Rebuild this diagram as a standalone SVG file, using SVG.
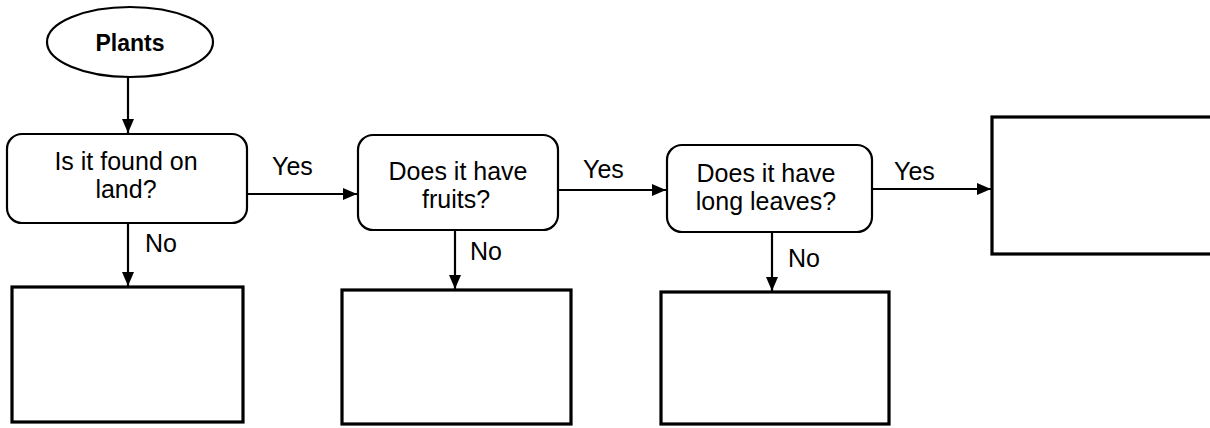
<svg xmlns="http://www.w3.org/2000/svg" width="1210" height="428" viewBox="0 0 1210 428">
<style>
text{font-family:"Liberation Sans",Arial,sans-serif;font-size:25px;fill:#000;text-anchor:middle}
.title{font-weight:bold;font-size:23px}
.lbl{text-anchor:start}
.dec{fill:#fff;stroke:#000;stroke-width:2.2}
.box{fill:#fff;stroke:#000;stroke-width:3.2}
.conn{fill:none;stroke:#000;stroke-width:2.2}
</style>
<defs>
<marker id="ah" markerUnits="userSpaceOnUse" markerWidth="15" markerHeight="13" refX="14" refY="6.5" orient="auto">
<path d="M0,0.5 L14,6.5 L0,12.5 z" fill="#000"/>
</marker>
</defs>
<rect width="1210" height="428" fill="#fff"/>
<g id="connectors">
<line class="conn" x1="128" y1="77" x2="128" y2="133" marker-end="url(#ah)"/>
<line class="conn" x1="247" y1="194" x2="357" y2="194" marker-end="url(#ah)"/>
<line class="conn" x1="558" y1="190" x2="666" y2="190" marker-end="url(#ah)"/>
<line class="conn" x1="872" y1="189" x2="991" y2="189" marker-end="url(#ah)"/>
<line class="conn" x1="128" y1="223" x2="128" y2="286" marker-end="url(#ah)"/>
<line class="conn" x1="455" y1="230" x2="455" y2="289" marker-end="url(#ah)"/>
<line class="conn" x1="772" y1="232" x2="772" y2="291" marker-end="url(#ah)"/>
<text class="lbl" x="272" y="175">Yes</text>
<text class="lbl" x="583" y="178">Yes</text>
<text class="lbl" x="894" y="180">Yes</text>
<text class="lbl" x="145" y="252">No</text>
<text class="lbl" x="470" y="260">No</text>
<text class="lbl" x="788" y="267">No</text>
</g>
<g id="plants">
<ellipse class="dec" cx="130" cy="42" rx="83" ry="35" stroke-width="1.8"/>
<text class="title" x="130" y="51">Plants</text>
</g>
<g id="q-land">
<rect class="dec" x="7" y="134" width="240" height="89" rx="15"/>
<text x="126" y="170">Is it found on</text>
<text x="126" y="198">land?</text>
</g>
<g id="q-fruits">
<rect class="dec" x="358" y="135" width="200" height="95" rx="15"/>
<text x="458" y="180">Does it have</text>
<text x="456" y="208">fruits?</text>
</g>
<g id="q-leaves">
<rect class="dec" x="667" y="145" width="205" height="87" rx="15"/>
<text x="766" y="182">Does it have</text>
<text x="766" y="210">long leaves?</text>
</g>
<g id="ans-yes">
<rect class="box" x="992" y="117" width="222" height="137"/>
</g>
<g id="ans-no-land">
<rect class="box" x="12" y="287" width="231" height="135"/>
</g>
<g id="ans-no-fruits">
<rect class="box" x="342" y="290" width="229" height="134"/>
</g>
<g id="ans-no-leaves">
<rect class="box" x="661" y="292" width="228" height="132"/>
</g>
</svg>
